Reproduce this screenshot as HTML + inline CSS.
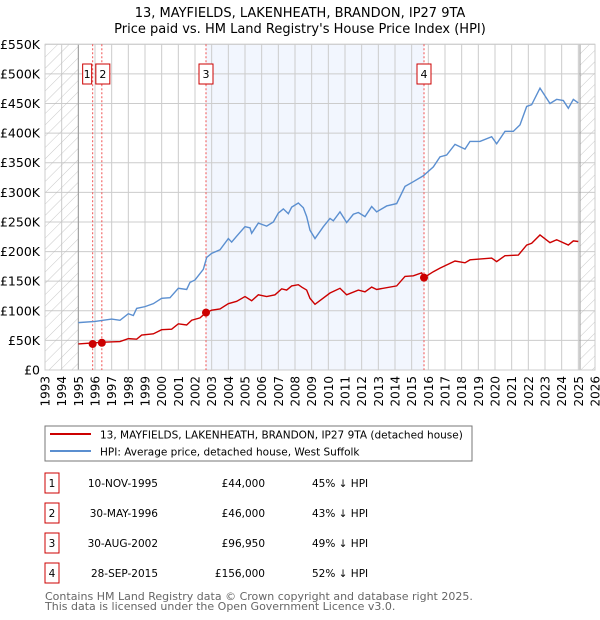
<!DOCTYPE html>
<html><head><meta charset="utf-8"><style>
body{margin:0;background:#fff;font-family:"Liberation Sans","DejaVu Sans",sans-serif;}
#wrap{position:relative;width:600px;height:620px;overflow:hidden}
</style></head><body><div id="wrap">
<svg id="chart" width="600" height="620" font-family="'DejaVu Sans','Liberation Sans',sans-serif">
<defs><pattern id="hatch" width="8" height="8" patternUnits="userSpaceOnUse" patternTransform="rotate(45)"><line x1="0" y1="0" x2="0" y2="8" stroke="#bbb" stroke-width="0.8"/></pattern></defs>
<text x="300" y="17" text-anchor="middle" font-size="13">13, MAYFIELDS, LAKENHEATH, BRANDON, IP27 9TA</text>
<text x="300" y="33" text-anchor="middle" font-size="13">Price paid vs. HM Land Registry's House Price Index (HPI)</text>
<g id="plot"></g>
<rect x="45" y="426" width="427" height="35" fill="#fff" stroke="#777"/>
<line x1="50" y1="434" x2="91" y2="434" stroke="#cc0000" stroke-width="2"/>
<text x="100" y="438.5" font-size="10.5">13, MAYFIELDS, LAKENHEATH, BRANDON, IP27 9TA (detached house)</text>
<line x1="50" y1="451" x2="91" y2="451" stroke="#5b8fd0" stroke-width="2"/>
<text x="100" y="455.5" font-size="10.5">HPI: Average price, detached house, West Suffolk</text>
<g id="table" font-size="10.5"></g>
<text x="45" y="600" font-size="11" fill="#666">Contains HM Land Registry data © Crown copyright and database right 2025.</text>
<text x="45" y="610" font-size="11" fill="#666">This data is licensed under the Open Government Licence v3.0.</text>
</svg></div>
<script>
const hpiYears=[1995,1996,1997,1997.5,1998,1998.3,1998.5,1999,1999.5,2000,2000.5,2001,2001.5,2001.7,2002,2002.5,2002.7,2003,2003.5,2004,2004.2,2004.5,2005,2005.3,2005.4,2005.8,2006.3,2006.7,2007,2007.3,2007.6,2007.8,2008.2,2008.5,2008.7,2008.9,2009.2,2009.7,2010.1,2010.3,2010.7,2011.1,2011.5,2011.8,2012.2,2012.6,2012.9,2013.5,2014.1,2014.6,2015.1,2015.7,2016.3,2016.7,2017.1,2017.6,2018.2,2018.5,2019.1,2019.8,2020.1,2020.6,2021.1,2021.5,2021.9,2022.2,2022.7,2023.3,2023.7,2024.1,2024.4,2024.7,2025.0];
const hpiValues=[80,82,86,84,95,92,104,107,112,121,122,138,136,148,152,170,190,197,203,222,216,226,242,240,231,248,243,250,265,272,264,275,282,274,259,236,222,242,256,252,267,249,263,266,259,276,267,277,281,310,318,328,343,360,363,381,373,386,386,394,382,403,403,414,445,448,476,450,457,455,442,457,451];
const priceYears=[1995,1996.5,1997.5,1998,1998.5,1998.8,1999.5,2000,2000.6,2001,2001.5,2001.8,2002.3,2002.66,2003,2003.5,2004,2004.5,2005,2005.4,2005.8,2006.3,2006.8,2007.2,2007.5,2007.8,2008.2,2008.4,2008.7,2008.9,2009.2,2010.1,2010.7,2011.1,2011.8,2012.2,2012.6,2012.9,2014.1,2014.6,2015.1,2015.6,2015.74,2016.3,2016.7,2017.6,2018.2,2018.5,2019.8,2020.1,2020.6,2021.4,2021.9,2022.2,2022.7,2023.3,2023.7,2024.4,2024.7,2025.0];
const priceValues=[44,47,48,53,52,59,61,68,69,78,76,84,88,97,101,103,112,116,124,117,127,124,127,137,135,142,144,140,135,121,111,130,138,127,135,132,140,136,142,158,159,164,156,166,172,184,181,186,189,183,193,194,211,214,228,215,220,211,218,217];
const saleYears=[1995.86,1996.41,2002.66,2015.74];
const salePrices=[44,46,96.95,156];
const saleLabels=["1","2","3","4"];
const saleDates=["10-NOV-1995","30-MAY-1996","30-AUG-2002","28-SEP-2015"];
const salePriceText=["£44,000","£46,000","£96,950","£156,000"];
const saleDiff=["45% ↓ HPI","43% ↓ HPI","49% ↓ HPI","52% ↓ HPI"];
const yTicks=[0,50,100,150,200,250,300,350,400,450,500,550];
const yTickLabels=["£0","£50K","£100K","£150K","£200K","£250K","£300K","£350K","£400K","£450K","£500K","£550K"];
const xTicks=[1993,1994,1995,1996,1997,1998,1999,2000,2001,2002,2003,2004,2005,2006,2007,2008,2009,2010,2011,2012,2013,2014,2015,2016,2017,2018,2019,2020,2021,2022,2023,2024,2025,2026];
const NS="http://www.w3.org/2000/svg";
const X0=45,X1=595,Y0=370,Y1=44.3;
const xs=y=>X0+(y-1993)/(2026-1993)*(X1-X0);
const ys=v=>Y0-v/550*(Y0-Y1);
const plot=document.getElementById('plot');
function mk(tag,attrs,parent){const e=document.createElementNS(NS,tag);for(const k in attrs)e.setAttribute(k,attrs[k]);(parent||plot).appendChild(e);return e;}
let e;
e=mk('rect',{x:xs(2002.66),y:Y1,width:xs(2015.74)-xs(2002.66),height:Y0-Y1,fill:'#f2f6fe'});


xTicks.forEach(t=>{const l=mk('line',{x1:xs(t),x2:xs(t),y1:Y1,y2:Y0,stroke:'#ccc'});


const tx=mk('text',{x:0,y:0,'font-size':12,'text-anchor':'end',transform:`translate(${xs(t)+4.5},376) rotate(-90)`});tx.textContent=t;

});
yTicks.forEach((t,i)=>{const l=mk('line',{x1:X0,x2:X1,y1:ys(t),y2:ys(t),stroke:'#ccc'});


const tx=mk('text',{x:40,y:ys(t)+4.5,'font-size':12.5,'text-anchor':'end'});tx.textContent=yTickLabels[i];

});
e=mk('rect',{x:X0,y:Y1,width:xs(1995)-X0,height:Y0-Y1,fill:'url(#hatch)'});


e=mk('rect',{x:xs(2025.1),y:Y1,width:X1-xs(2025.1),height:Y0-Y1,fill:'url(#hatch)'});


mk('line',{x1:xs(1995),x2:xs(1995),y1:Y1,y2:Y0,stroke:'#999'});
mk('line',{x1:xs(2025.1),x2:xs(2025.1),y1:Y1,y2:Y0,stroke:'#999'});
e=mk('rect',{x:X0,y:Y1,width:X1-X0,height:Y0-Y1,fill:'none',stroke:'#ccc'});


saleYears.forEach((s,i)=>{const l=mk('line',{x1:xs(s),x2:xs(s),y1:Y1,y2:Y0,stroke:'#f05050','stroke-dasharray':'2,2'});

});
e=mk('polyline',{points:hpiYears.map((y,i)=>xs(y)+','+ys(hpiValues[i])).join(' '),fill:'none',stroke:'#5b8fd0','stroke-width':1.4});


e=mk('polyline',{points:priceYears.map((y,i)=>xs(y)+','+ys(priceValues[i])).join(' '),fill:'none',stroke:'#cc0000','stroke-width':1.4});


saleYears.forEach((s,i)=>{const c=mk('circle',{cx:xs(s),cy:ys(salePrices[i]),r:4,fill:'#cc0000'});


const bx=(i==0)?xs(s)-10:(i==1?xs(s)-6:xs(s)-7);
const w=(i==0)?9:14;
const r=mk('rect',{x:bx,y:64,width:w,height:20,fill:'#fff',stroke:'#cc0000'});


const t=mk('text',{x:bx+w/2,y:78,'font-size':11,'text-anchor':'middle'});t.textContent=saleLabels[i];

});
const tb=document.getElementById('table');
saleLabels.forEach((lab,i)=>{const y=483+i*30;
const r=mk('rect',{x:45,y:y-10,width:14,height:20,fill:'#fff',stroke:'#cc0000'},tb);


const cells=[[52,lab,'middle'],[158,saleDates[i],'end'],[265,salePriceText[i],'end'],[312,saleDiff[i],'start']];
cells.forEach(c=>{const t=mk('text',{x:c[0],y:y+4,'text-anchor':c[2],'font-size':10.5},tb);t.textContent=c[1];

});});
</script></body></html>
